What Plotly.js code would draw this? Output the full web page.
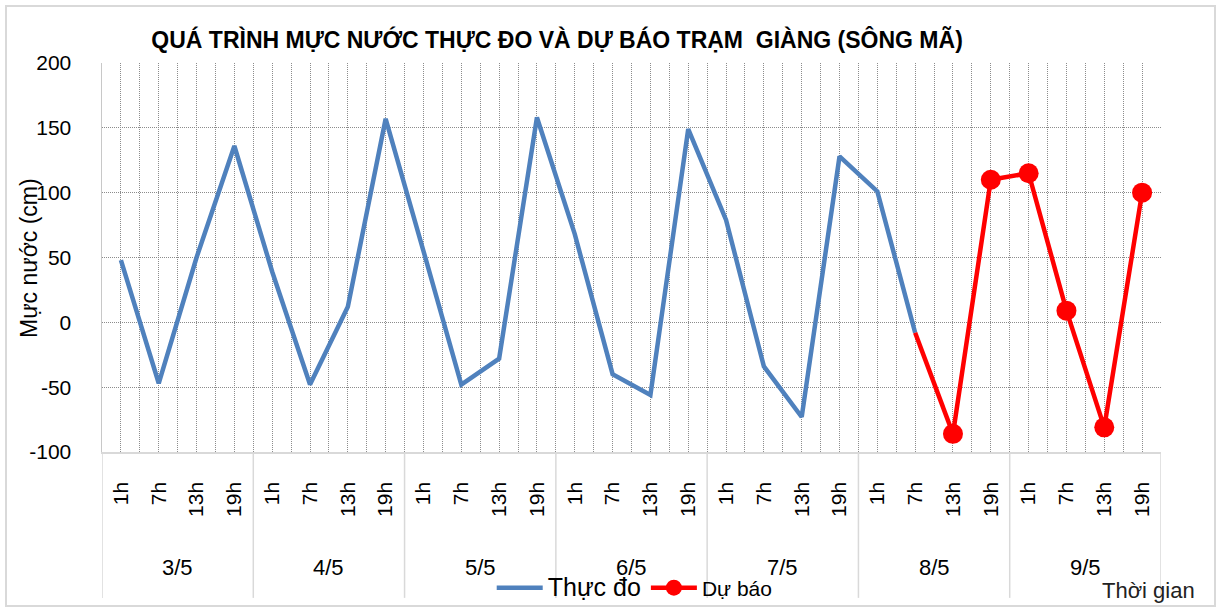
<!DOCTYPE html>
<html>
<head>
<meta charset="utf-8">
<script src="https://cdn.plot.ly/plotly-3.0.1.min.js"></script>
<style>
html,body{margin:0;padding:0;background:#fff;}
#wrap{position:absolute;left:5px;top:5px;width:1211px;height:602px;border:2px solid #d9d9d9;box-sizing:border-box;}
#chart{position:absolute;left:0;top:0;width:1219px;height:610px;}
</style>
</head>
<body>
<div id="wrap"></div>
<div id="chart"></div>
<script>
// ---- data ----
const days = ['3/5','4/5','5/5','6/5','7/5','8/5','9/5'];
const hours = ['1h','7h','13h','19h'];
const observed = [48,-47,50,136, 39,-48,12,157, 55,-48,-28,158, 68,-40,-56,149, 79,-34,-73,128, 101,-8];
const forecastStart = -8;           // 8/5 7h, where forecast line joins observed
const forecast = [-86,110, 115,9,-81,100]; // 8/5 13h .. 9/5 19h
const yTicks = [-100,-50,0,50,100,150,200];
const yTickText = ['-100','-50','0','50','100','150','200'];

// ---- derived ----
const nCat = days.length * hours.length;
const idx = [...Array(nCat).keys()];
const tickText = days.flatMap(() => hours);
const obsX = observed.map((_, i) => i);
const fcStartIdx = observed.length - 1;
const fcX = forecast.map((_, i) => fcStartIdx + 1 + i);

const font = "'Liberation Sans', Arial, sans-serif";
const blue = '#4F81BD';
const red = '#FF0000';
const gridDash = '1px,1px';
const gridColor = '#8c8c8c';

const traces = [
  {x: obsX, y: observed, type: 'scatter', mode: 'lines',
   name: '<span style="font-size:25px">Thực đo</span>',
   line: {color: blue, width: 4.5}},
  {x: [fcStartIdx, fcX[0]], y: [forecastStart, forecast[0]], type: 'scatter', mode: 'lines',
   showlegend: false, hoverinfo: 'skip', line: {color: red, width: 4.5}},
  {x: fcX, y: forecast, type: 'scatter', mode: 'lines+markers', name: 'Dự báo',
   line: {color: red, width: 4.5}, marker: {color: red, size: 20}}
];

const shapes = [];
for (let d = 0; d <= days.length; d++) {
  shapes.push({type: 'line', xref: 'x', yref: 'paper', x0: d*4 - 0.5, x1: d*4 - 0.5,
    y0: 0, y1: -0.375, line: {color: '#d9d9d9', width: 1.5}});
}
const annotations = days.map((d, i) => ({
  text: d, x: i*4 + 1.5, xref: 'x', y: -0.298, yref: 'paper', showarrow: false,
  xanchor: 'center', yanchor: 'middle', font: {family: font, size: 22, color: '#000'}
}));
annotations.push({text: 'Thời gian', x: 0.988, xref: 'paper', y: -0.355, yref: 'paper',
  showarrow: false, xanchor: 'center', yanchor: 'middle',
  font: {family: font, size: 22, color: '#222'}});
annotations.push({text: 'Mực nước (cm)', x: -0.069, xref: 'paper', y: 0.4987, yref: 'paper',
  showarrow: false, textangle: -90, xanchor: 'center', yanchor: 'middle',
  font: {family: font, size: 23, color: '#000'}});

const layout = {
  width: 1219, height: 610,
  paper_bgcolor: 'rgba(0,0,0,0)', plot_bgcolor: 'rgba(0,0,0,0)',
  margin: {l: 102, r: 58, t: 63, b: 158, autoexpand: false},
  font: {family: font, color: '#000'},
  title: {text: '<b>QUÁ TRÌNH MỰC NƯỚC THỰC ĐO VÀ DỰ BÁO TRẠM  GIÀNG (SÔNG MÃ)</b>',
    x: 0.457, xref: 'container', xanchor: 'center', y: 0.934, yref: 'container', yanchor: 'middle',
    font: {family: font, size: 23, color: '#000'}},
  xaxis: {range: [-0.5, nCat - 0.5], tickvals: idx, ticktext: tickText, tickangle: -90,
    showgrid: true, gridcolor: gridColor, griddash: gridDash, gridwidth: 1,
    minor: {dtick: 0.5, tick0: -0.5, showgrid: true, gridcolor: gridColor, griddash: gridDash, gridwidth: 1},
    showline: true, linecolor: '#d9d9d9', linewidth: 1.5, zeroline: false,
    ticks: '', ticklabelstandoff: 20, automargin: false,
    tickfont: {family: font, size: 21, color: '#000'}, fixedrange: true},
  yaxis: {range: [-100, 200], tickvals: yTicks, ticktext: yTickText,
    showgrid: true, gridcolor: gridColor, griddash: gridDash,
    gridwidth: 1, zeroline: false, showline: true, linecolor: '#c8c8c8', linewidth: 1.5,
    ticks: '', ticklabelstandoff: 25, automargin: false,
    tickfont: {family: font, size: 21, color: '#000'},
    fixedrange: true},
  legend: {orientation: 'h', x: 0.368, xanchor: 'left', xref: 'paper',
    y: 0.036, yref: 'container', yanchor: 'middle',
    bgcolor: 'rgba(0,0,0,0)', font: {family: font, size: 21, color: '#000'},
    itemwidth: 46, tracegroupgap: 0},
  shapes: shapes,
  annotations: annotations,
  showlegend: true
};

Plotly.newPlot('chart', traces, layout, {displayModeBar: false, staticPlot: true});
</script>
</body>
</html>
